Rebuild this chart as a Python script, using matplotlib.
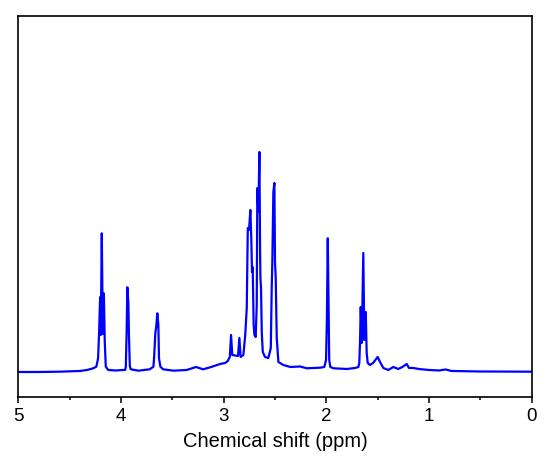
import matplotlib
matplotlib.use("Agg")
import matplotlib.pyplot as plt
from matplotlib.ticker import MultipleLocator

# Chemical shift (ppm) and intensity (arbitrary units)
ppm = [5.00, 4.80, 4.60, 4.40, 4.33, 4.27, 4.24, 4.223, 4.213, 4.203, 4.197, 4.187,
       4.177, 4.167, 4.158, 4.148, 4.124, 4.05, 3.98, 3.96, 3.953, 3.945, 3.938,
       3.928, 3.922, 3.914, 3.905, 3.83, 3.72, 3.684, 3.678, 3.672, 3.666, 3.657,
       3.646, 3.636, 3.63, 3.616, 3.59, 3.49, 3.36, 3.27, 3.20, 3.13, 3.035, 2.986,
       2.96, 2.94, 2.928, 2.916, 2.86, 2.847, 2.835, 2.808, 2.79, 2.775, 2.765,
       2.753, 2.740, 2.730, 2.724, 2.717, 2.708, 2.700, 2.688, 2.678, 2.672, 2.662,
       2.652, 2.645, 2.642, 2.636, 2.629, 2.619, 2.597, 2.565, 2.541, 2.532, 2.526,
       2.516, 2.506, 2.500, 2.493, 2.483, 2.467, 2.42, 2.35, 2.256, 2.19, 2.06,
       2.02, 2.003, 1.995, 1.986, 1.980, 1.972, 1.961, 1.93, 1.80, 1.72, 1.688,
       1.679, 1.672, 1.665, 1.655, 1.640, 1.630, 1.616, 1.607, 1.597, 1.575, 1.545,
       1.50, 1.477, 1.445, 1.396, 1.348, 1.30, 1.26, 1.217, 1.195, 1.153, 1.10,
       1.00, 0.90, 0.84, 0.78, 0.50, 0.00]
intensity = [0, 0, 0.3, 1, 2, 3.7, 5.3, 13.7, 40, 75, 37, 138.7,
             38, 78.7, 30, 5.3, 2, 1.5, 2, 2, 5, 40, 84.7,
             68.7, 35, 6, 2.7, 1.3, 2.7, 5.3, 13.7, 25, 38.7, 45,
             58.7, 47, 13.7, 5.3, 2.7, 1.3, 2, 5, 2.7, 4.7, 8, 9,
             11, 15, 37, 17, 16, 34, 15, 17, 37, 64, 144,
             142, 162, 130, 100, 105, 47, 37, 35, 67, 184, 160,
             220, 117, 94, 84, 40, 20, 15, 14, 24, 84, 110,
             180, 189, 110, 94, 34, 10, 7, 5, 5.5, 3.7, 4.3,
             5, 12, 50, 133.7, 85, 12, 5, 3.7, 3, 4, 5,
             9, 30, 65, 29, 119, 32, 60, 19, 9, 7, 9,
             15, 10, 4, 2, 5, 3, 5, 8, 4, 4, 3,
             2, 1.5, 2.5, 1, 0.5, 0.3]

x_ticks = [5, 4, 3, 2, 1, 0]

plt.rcParams['font.family'] = ['Liberation Sans', 'DejaVu Sans']

fig = plt.figure(figsize=(5.5, 4.76), dpi=100)
ax = fig.add_axes([0.0333, 0.166, 0.9334, 0.801])
ax.plot(ppm, intensity, color='#0000FF', linewidth=1.6)

ax.set_xlim(5, 0)
ax.set_ylim(-25, 356.3)
ax.set_xticks(x_ticks)
ax.set_xticklabels([str(t) for t in x_ticks])
ax.xaxis.set_minor_locator(MultipleLocator(0.5))
ax.tick_params(axis='x', which='major', direction='out', length=4.2, width=1.1,
               labelsize=13.5, pad=4)
ax.tick_params(axis='x', which='minor', direction='out', length=2.5, width=1.1)
ax.set_yticks([])
for s in ax.spines.values():
    s.set_linewidth(1.2)
ax.set_xlabel('Chemical shift (ppm)', fontsize=14.5, labelpad=5)

fig.savefig('out.png', dpi=100)
